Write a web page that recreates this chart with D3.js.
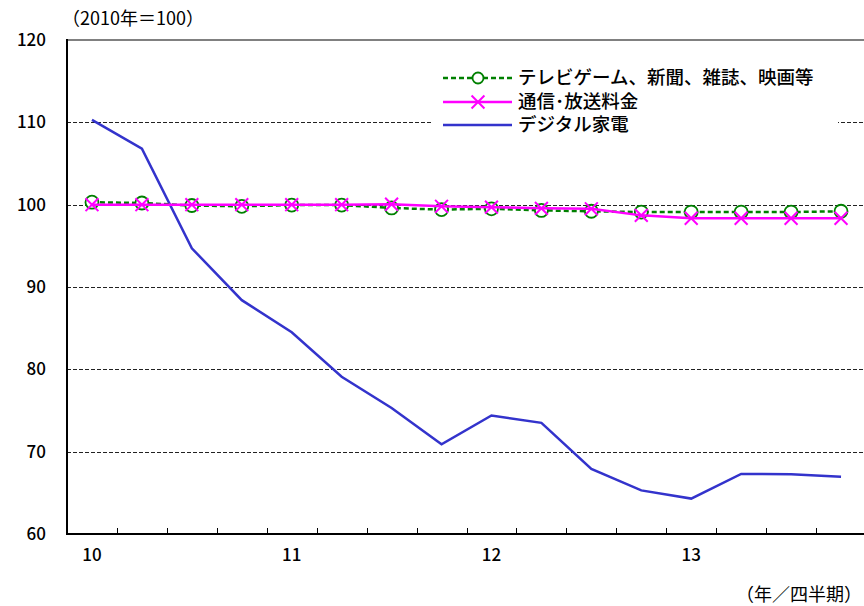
<!DOCTYPE html>
<html>
  <head>
    <meta charset="UTF-8">
    <style>
      body { margin: 0; background: #fff; }
      text { font-family: "Noto Sans CJK JP", "DejaVu Sans", sans-serif; fill: #000; }
    </style>
    <script src="https://d3js.org/d3.v7.min.js"></script>
  </head>
  <body>
    <script>
      // quarters 2010Q1 .. 2013Q4
      var quarters = ["10Q1","10Q2","10Q3","10Q4","11Q1","11Q2","11Q3","11Q4",
                      "12Q1","12Q2","12Q3","12Q4","13Q1","13Q2","13Q3","13Q4"];
      var yearLabels = ["10","11","12","13"];
      var yTicks = [60, 70, 80, 90, 100, 110, 120];

      var seriesNames = ["テレビゲーム、新聞、雑誌、映画等", "通信･放送料金", "デジタル家電"];
      var games   = [100.3, 100.2, 99.9, 99.8, 99.95, 99.95, 99.6, 99.4, 99.5, 99.3, 99.2, 99.1, 99.1, 99.1, 99.1, 99.2];
      var telecom = [100.0, 100.0, 100.0, 100.0, 100.0, 100.0, 100.05, 99.8, 99.7, 99.55, 99.5, 98.7, 98.35, 98.35, 98.35, 98.35];
      var digital = [110.3, 106.8, 94.7, 88.4, 84.5, 79.1, 75.3, 70.9, 74.4, 73.5, 67.9, 65.3, 64.3, 67.3, 67.25, 66.95];

      var W = 864, H = 606;
      var mLeft = 67, mTop = 40, mBottom = 534, mRight = 866;

      var svg = d3.select("body").append("svg")
        .attr("width", W)
        .attr("height", H);

      var x = d3.scaleBand().domain(quarters).range([mLeft, mRight]);
      var y = d3.scaleLinear().domain([60, 120]).range([mBottom, mTop]);
      var xc = function(i) { return x(quarters[i]) + x.bandwidth() / 2; };

      // gridlines
      svg.append("g").selectAll("line")
        .data(yTicks.filter(function(d) { return d > 60 && d < 120; }))
        .enter().append("line")
        .attr("x1", mLeft).attr("x2", W)
        .attr("y1", function(d) { return Math.round(y(d)) + 0.5; })
        .attr("y2", function(d) { return Math.round(y(d)) + 0.5; })
        .attr("stroke", "#222")
        .attr("stroke-dasharray", "4,2");

      // top border
      svg.append("line")
        .attr("x1", mLeft).attr("x2", W)
        .attr("y1", mTop).attr("y2", mTop)
        .attr("stroke", "#808080").attr("stroke-width", 2);

      // y labels
      svg.append("g").selectAll("text")
        .data(yTicks)
        .enter().append("text")
        .attr("x", 46)
        .attr("y", function(d) { return y(d); })
        .attr("dy", "0.35em")
        .attr("text-anchor", "end")
        .style("font-size", "17px")
        .style("font-weight", "500")
        .text(function(d) { return d; });

      // x axis, inner ticks at quarter boundaries
      svg.append("g").selectAll("line")
        .data(quarters.slice(1))
        .enter().append("line")
        .attr("x1", function(d) { return Math.round(x(d)) + 0.5; })
        .attr("x2", function(d) { return Math.round(x(d)) + 0.5; })
        .attr("y1", mBottom).attr("y2", mBottom - 6)
        .attr("stroke", "#000");

      svg.append("line")
        .attr("x1", mLeft).attr("x2", W)
        .attr("y1", mBottom).attr("y2", mBottom)
        .attr("stroke", "#000").attr("stroke-width", 2);
      svg.append("line")
        .attr("x1", mLeft).attr("x2", mLeft)
        .attr("y1", mTop - 1).attr("y2", mBottom + 1)
        .attr("stroke", "#000").attr("stroke-width", 2);

      svg.append("g").selectAll("text")
        .data(yearLabels)
        .enter().append("text")
        .attr("x", function(d, i) { return xc(i * 4); })
        .attr("y", 561)
        .attr("text-anchor", "middle")
        .style("font-size", "17px")
        .style("font-weight", "500")
        .text(function(d) { return d; });

      svg.append("text")
        .attr("x", 62).attr("y", 25)
        .style("font-size", "18px")
        .text("（2010年＝100）");
      svg.append("text")
        .attr("x", 862).attr("y", 601)
        .attr("text-anchor", "end")
        .style("font-size", "18px")
        .text("（年／四半期）");

      var line = d3.line()
        .x(function(d, i) { return xc(i); })
        .y(function(d) { return y(d); });

      // digital appliances
      svg.append("path")
        .attr("d", line(digital))
        .attr("fill", "none")
        .attr("stroke", "#3333CC")
        .attr("stroke-width", 2.5);

      // games etc
      svg.append("path")
        .attr("d", line(games))
        .attr("fill", "none")
        .attr("stroke", "#008000")
        .attr("stroke-width", 2.5)
        .attr("stroke-dasharray", "5,3");
      svg.append("g").selectAll("circle")
        .data(games)
        .enter().append("circle")
        .attr("cx", function(d, i) { return xc(i); })
        .attr("cy", function(d) { return y(d); })
        .attr("r", 6.5)
        .attr("fill", "#fff")
        .attr("stroke", "#008000")
        .attr("stroke-width", 1.8);

      // telecom
      svg.append("path")
        .attr("d", line(telecom))
        .attr("fill", "none")
        .attr("stroke", "#FF00FF")
        .attr("stroke-width", 2.5);
      var cross = d3.symbol().type(d3.symbolX).size(110);
      svg.append("g").selectAll("path")
        .data(telecom)
        .enter().append("path")
        .attr("transform", function(d, i) { return "translate(" + xc(i) + "," + y(d) + ")"; })
        .attr("d", cross)
        .attr("fill", "none")
        .attr("stroke", "#FF00FF")
        .attr("stroke-width", 2);

      // legend
      var lg = svg.append("g");
      lg.append("rect")
        .attr("x", 432).attr("y", 64).attr("width", 406).attr("height", 74)
        .attr("fill", "#fff");
      var rows = [78, 102, 125];
      lg.append("line")
        .attr("x1", 443).attr("x2", 512).attr("y1", rows[0]).attr("y2", rows[0])
        .attr("stroke", "#008000").attr("stroke-width", 2.5).attr("stroke-dasharray", "5,3");
      lg.append("circle")
        .attr("cx", 478).attr("cy", rows[0]).attr("r", 5.5)
        .attr("fill", "#fff").attr("stroke", "#008000").attr("stroke-width", 1.8);
      lg.append("line")
        .attr("x1", 443).attr("x2", 512).attr("y1", rows[1]).attr("y2", rows[1])
        .attr("stroke", "#FF00FF").attr("stroke-width", 2.5);
      lg.append("path")
        .attr("transform", "translate(478," + rows[1] + ")")
        .attr("d", cross)
        .attr("fill", "none").attr("stroke", "#FF00FF").attr("stroke-width", 2);
      lg.append("line")
        .attr("x1", 443).attr("x2", 512).attr("y1", rows[2]).attr("y2", rows[2])
        .attr("stroke", "#3333CC").attr("stroke-width", 2.5);
      lg.selectAll("text.lab")
        .data(seriesNames)
        .enter().append("text")
        .attr("class", "lab")
        .attr("x", 518)
        .attr("y", function(d, i) { return rows[i]; })
        .attr("dy", "0.34em")
        .style("font-size", "18.5px")
        .style("font-weight", "500")
        .text(function(d) { return d; });
    </script>
  </body>
</html>
